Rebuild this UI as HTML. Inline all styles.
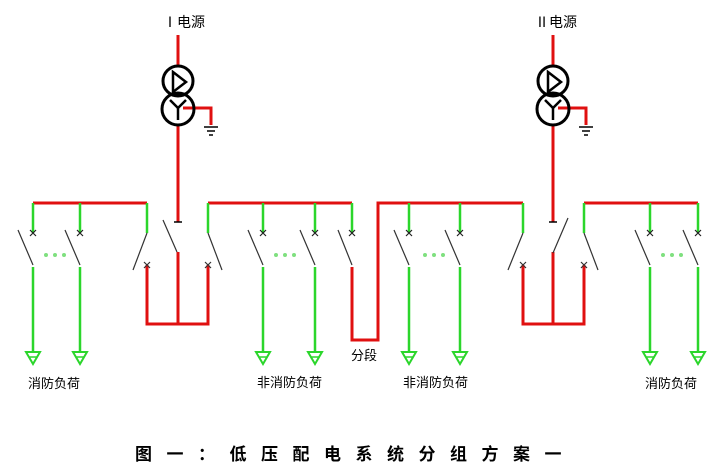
<!DOCTYPE html>
<html><head><meta charset="utf-8"><style>
html,body{margin:0;padding:0;background:#fff;width:720px;height:473px;overflow:hidden}
svg{display:block}
text{font-family:"Liberation Sans","Noto Sans CJK SC",sans-serif;fill:#000}
</style></head><body>
<svg width="720" height="473" viewBox="0 0 720 473" xmlns="http://www.w3.org/2000/svg">
<defs>
<g id="tr">
  <line x1="0" y1="35" x2="0" y2="65" stroke="#e01010" stroke-width="3"/>
  <line x1="0" y1="124" x2="0" y2="222" stroke="#e01010" stroke-width="3"/>
  <line x1="-4" y1="222" x2="4" y2="222" stroke="#000" stroke-width="1.5"/>
  <polyline points="5,108 33,108 33,125" fill="none" stroke="#e01010" stroke-width="3"/>
  <line x1="26" y1="127" x2="40" y2="127" stroke="#000" stroke-width="1.5"/>
  <line x1="29" y1="131" x2="37" y2="131" stroke="#000" stroke-width="1.5"/>
  <line x1="31" y1="135" x2="35" y2="135" stroke="#000" stroke-width="1.5"/>
  <circle cx="0" cy="81" r="15" fill="none" stroke="#000" stroke-width="3"/>
  <circle cx="0" cy="109" r="16" fill="none" stroke="#000" stroke-width="3"/>
  <polygon points="-5,72 8,82 -5,92" fill="none" stroke="#000" stroke-width="2.5"/>
  <polyline points="-8,100 0,108 8,100" fill="none" stroke="#000" stroke-width="2.5"/>
  <line x1="0" y1="108" x2="0" y2="120" stroke="#000" stroke-width="2.5"/>
</g>
<g id="ld">
  <line x1="0" y1="203" x2="0" y2="233" stroke="#2bd62b" stroke-width="2.5"/>
  <path d="M-3,230 L3,236 M3,230 L-3,236" stroke="#222" stroke-width="1.2"/>
  <line x1="-15" y1="230" x2="0" y2="265" stroke="#333" stroke-width="1.2"/>
  <line x1="0" y1="267" x2="0" y2="352" stroke="#2bd62b" stroke-width="2.5"/>
  <polygon points="-7,352 7,352 0,364" fill="none" stroke="#2bd62b" stroke-width="2"/>
  <line x1="-4" y1="357" x2="4" y2="357" stroke="#2bd62b" stroke-width="1.5"/>
</g>
</defs>
<text x="163" y="27" font-size="14">Ⅰ电源</text>
<text x="535" y="27" font-size="14">Ⅱ电源</text>
<use href="#tr" x="178"/>
<use href="#tr" x="553"/>
<g stroke="#e01010" stroke-width="3" fill="none">
<line x1="33" y1="203" x2="147" y2="203"/>
<line x1="208" y1="203" x2="352" y2="203"/>
<polyline points="352,267 352,340 378,340 378,203 523,203"/>
<line x1="584" y1="203" x2="698" y2="203"/>
<polyline points="147,265 147,324 208,324 208,265"/>
<line x1="178" y1="252" x2="178" y2="324"/>
<polyline points="523,265 523,324 584,324 584,265"/>
<line x1="553" y1="252" x2="553" y2="324"/>
</g>
<use href="#ld" x="33"/><use href="#ld" x="80"/>
<use href="#ld" x="263"/><use href="#ld" x="315"/>
<use href="#ld" x="409"/><use href="#ld" x="460"/>
<use href="#ld" x="650"/><use href="#ld" x="698"/>
<g>
<line x1="352" y1="203" x2="352" y2="233" stroke="#2bd62b" stroke-width="2.5"/>
<path d="M349,230 L355,236 M355,230 L349,236" stroke="#222" stroke-width="1.2"/>
<line x1="338" y1="230" x2="352" y2="265" stroke="#333" stroke-width="1.2"/>
</g>
<g stroke-width="2.5">
<line x1="147" y1="203" x2="147" y2="233" stroke="#2bd62b"/>
<line x1="208" y1="203" x2="208" y2="233" stroke="#2bd62b"/>
<line x1="523" y1="203" x2="523" y2="233" stroke="#2bd62b"/>
<line x1="584" y1="203" x2="584" y2="233" stroke="#2bd62b"/>
</g>
<g stroke="#333" stroke-width="1.2" fill="none">
<line x1="147" y1="233" x2="133" y2="270"/>
<line x1="208" y1="233" x2="222" y2="270"/>
<line x1="163" y1="220" x2="177" y2="252"/>
<line x1="523" y1="233" x2="508" y2="270"/>
<line x1="584" y1="233" x2="598" y2="270"/>
<line x1="568" y1="218" x2="553" y2="253"/>
<path d="M144,262 L150,268 M150,262 L144,268 M205,262 L211,268 M211,262 L205,268 M520,262 L526,268 M526,262 L520,268 M581,262 L587,268 M587,262 L581,268"/>
</g>
<g fill="#7fe07f">
<circle cx="46" cy="255" r="2"/><circle cx="55" cy="255" r="2"/><circle cx="64" cy="255" r="2"/>
<circle cx="276" cy="255" r="2"/><circle cx="285" cy="255" r="2"/><circle cx="294" cy="255" r="2"/>
<circle cx="425" cy="255" r="2"/><circle cx="434" cy="255" r="2"/><circle cx="443" cy="255" r="2"/>
<circle cx="663" cy="255" r="2"/><circle cx="672" cy="255" r="2"/><circle cx="681" cy="255" r="2"/>
</g>
<g font-size="13">
<text x="28" y="388">消防负荷</text>
<text x="257" y="387">非消防负荷</text>
<text x="351" y="360">分段</text>
<text x="403" y="387">非消防负荷</text>
<text x="645" y="388">消防负荷</text>
</g>
<text x="135" y="460" font-size="17" letter-spacing="14.5" font-weight="bold">图一：低压配电系统分组方案一</text>
</svg>
</body></html>
